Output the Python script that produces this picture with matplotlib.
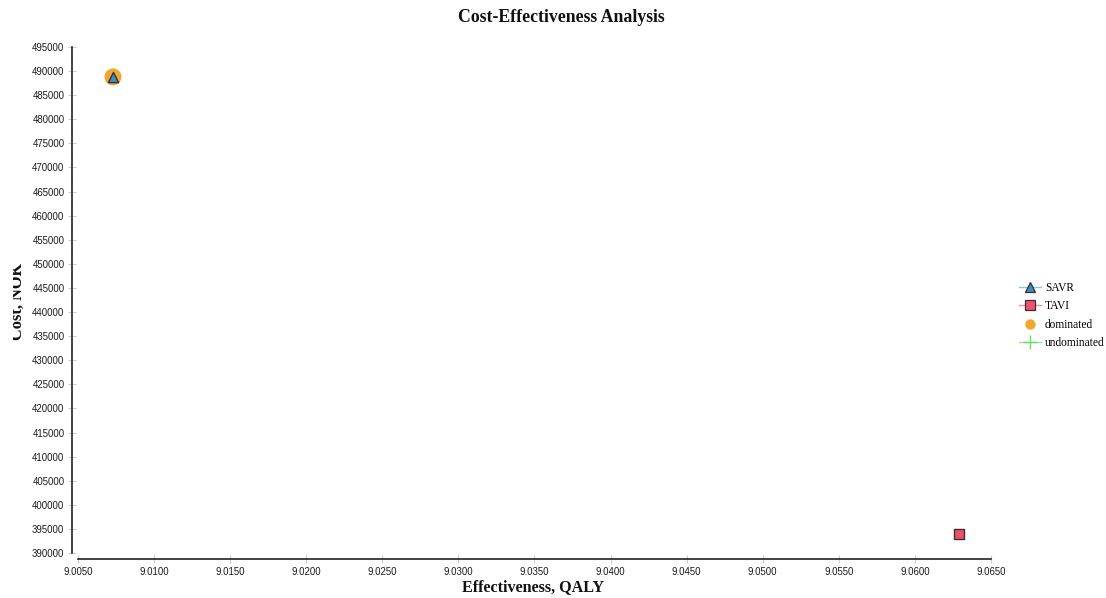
import matplotlib
matplotlib.use("Agg")
import matplotlib.pyplot as plt
from matplotlib.lines import Line2D
from matplotlib.transforms import Bbox

# ---- data ----
strategies = ["SAVR", "TAVI"]
effectiveness = [9.0073, 9.0629]
cost = [488800, 394000]
dominated_eff = [9.0073]
dominated_cost = [488800]
undominated_eff = []
undominated_cost = []
x_ticks = [9.005 + 0.005 * i for i in range(13)]
y_ticks = list(range(390000, 495001, 5000))

W, H = 1106, 598
fig = plt.figure(figsize=(W / 100, H / 100), dpi=100)
fig.patch.set_facecolor("white")

x0, x1 = 78, 991
y0, y1 = 47, 553
ax = fig.add_axes([x0 / W, 1 - y1 / H, (x1 - x0) / W, (y1 - y0) / H])
ax.set_xlim(9.005, 9.065)
ax.set_ylim(390000, 495000)

for s in ["top", "right"]:
    ax.spines[s].set_visible(False)
for s in ["left", "bottom"]:
    ax.spines[s].set_position(("outward", 4.3))
    ax.spines[s].set_linewidth(1.2)
    ax.spines[s].set_color("#222222")

ax.set_xticks(x_ticks)
ax.set_xticklabels([f"{v:.4f}" for v in x_ticks])
ax.set_yticks(y_ticks)
ax.set_yticklabels([str(v) for v in y_ticks])
ax.tick_params(axis="both", direction="inout", length=6, width=0.8,
               color="#cccccc", labelsize=6.9, labelcolor="#1a1a1a", pad=2.5)
for lbl in ax.get_xticklabels() + ax.get_yticklabels():
    lbl.set_family("Liberation Sans")

colors = {"SAVR": "#3a8fc2", "TAVI": "#f25068"}
markers = {"SAVR": "^", "TAVI": "s"}
line_colors = {"SAVR": "#8fc3e6", "TAVI": "#f08f9e"}

ax.scatter(dominated_eff, dominated_cost, s=150, color="#f0a830", zorder=2,
           edgecolors="none", clip_on=False)
ax.scatter(undominated_eff, undominated_cost, s=150, color="#66e066", marker="+",
           zorder=2, clip_on=False)
for name, xv, yv in zip(strategies, effectiveness, cost):
    ax.scatter([xv], [yv], s=55, marker=markers[name], color=colors[name],
               edgecolors="#333333", linewidths=1.0, zorder=3, clip_on=False)

fig.text(561 / W, 1 - 17 / H, "Cost-Effectiveness Analysis", ha="center", va="center",
         family="Liberation Serif", fontweight="bold", fontsize=12.8, color="#111111")
fig.text(533 / W, 1 - 587 / H, "Effectiveness, QALY", ha="center", va="center",
         family="Liberation Serif", fontweight="bold", fontsize=11.6, color="#111111")
yl = fig.text(17.5 / W, 1 - 301 / H, "Cost, NOK", ha="center", va="center", rotation=90,
              family="Liberation Serif", fontweight="bold", fontsize=11.8, color="#111111")
yl.set_clip_box(Bbox.from_extents(13, 0, W, H))
yl.set_clip_on(True)

handles = [
    Line2D([0], [0], color=line_colors["SAVR"], lw=1, marker="^", markersize=7.5,
           markerfacecolor=colors["SAVR"], markeredgecolor="#333333", markeredgewidth=0.9),
    Line2D([0], [0], color=line_colors["TAVI"], lw=1, marker="s", markersize=7,
           markerfacecolor=colors["TAVI"], markeredgecolor="#333333", markeredgewidth=0.9),
    Line2D([0], [0], color="none", marker="o", markersize=7.5,
           markerfacecolor="#f0a830", markeredgecolor="none"),
    Line2D([0], [0], color="#8fee8f", lw=1, marker="+", markersize=10,
           markeredgecolor="#66e066"),
]
labels = ["SAVR", "TAVI", "dominated", "undominated"]
leg = fig.legend(handles, labels, loc="upper left",
                 bbox_to_anchor=(1019 / W, 1 - 282 / H), bbox_transform=fig.transFigure,
                 frameon=False, prop={"family": "Liberation Serif", "size": 8.3},
                 handlelength=1.9, handletextpad=0.35, labelspacing=0.55, borderpad=0,
                 borderaxespad=0)

fig.savefig("out.png", dpi=100, facecolor="white")
